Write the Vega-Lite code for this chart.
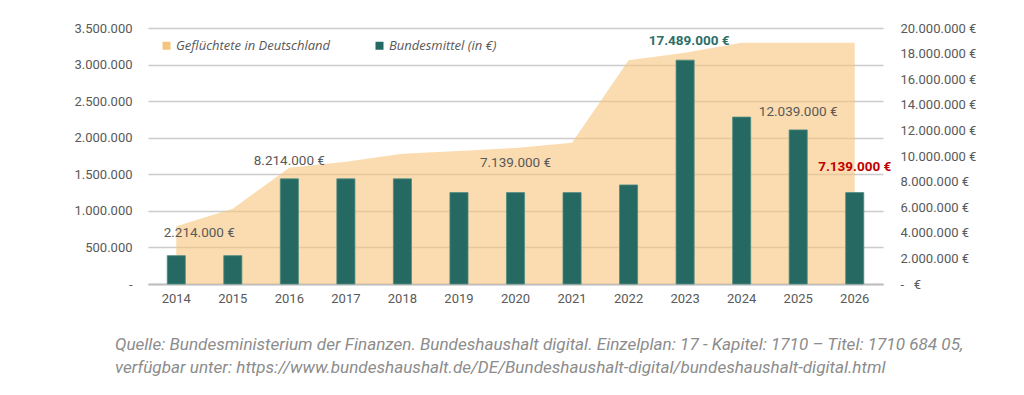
{
  "$schema": "https://vega.github.io/schema/vega-lite/v6.json",
  "width": 735,
  "height": 256,
  "autosize": {"type": "none"},
  "padding": {"left": 148, "top": 28, "right": 141, "bottom": 111},
  "background": "white",
  "config": {
    "locale": {"number": {"decimal": ",", "thousands": ".", "grouping": [3], "currency": ["", " €"]}},
    "view": {"stroke": null},
    "font": "Roboto",
    "axis": {"labelFont": "Roboto", "labelFontSize": 13, "labelColor": "#595959", "ticks": false, "domain": false, "title": null}
  },
  "title": {
    "text": ["Quelle: Bundesministerium der Finanzen. Bundeshaushalt digital. Einzelplan: 17 - Kapitel: 1710 – Titel: 1710 684 05,", "verfügbar unter: https://www.bundeshaushalt.de/DE/Bundeshaushalt-digital/bundeshaushalt-digital.html"],
    "orient": "bottom", "anchor": "start", "frame": "group", "dx": -33, "offset": 31,
    "font": "Roboto", "fontSize": 17.1, "fontStyle": "italic", "fontWeight": "normal", "color": "#8C8C8C", "lineHeight": 23
  },
  "data": {"values": [
    {"year": "2014", "refugees": 790000, "funds": 2214000},
    {"year": "2015", "refugees": 1030000, "funds": 2214000},
    {"year": "2016", "refugees": 1590000, "funds": 8214000},
    {"year": "2017", "refugees": 1670000, "funds": 8214000},
    {"year": "2018", "refugees": 1780000, "funds": 8214000},
    {"year": "2019", "refugees": 1820000, "funds": 7139000},
    {"year": "2020", "refugees": 1860000, "funds": 7139000},
    {"year": "2021", "refugees": 1930000, "funds": 7139000},
    {"year": "2022", "refugees": 3060000, "funds": 7739000},
    {"year": "2023", "refugees": 3160000, "funds": 17489000},
    {"year": "2024", "refugees": 3300000, "funds": 13039000},
    {"year": "2025", "refugees": 3300000, "funds": 12039000},
    {"year": "2026", "refugees": 3300000, "funds": 7139000}
  ]},
  "transform": [{"calculate": "format(datum.funds, ',') + ' €'", "as": "label"}],
  "encoding": {
    "x": {"field": "year", "type": "ordinal",
      "scale": {"paddingInner": 0.68, "paddingOuter": 0.34},
      "axis": {"labelAngle": 0, "domain": true, "domainColor": "#BFBFBF", "domainWidth": 2, "labelPadding": 8, "grid": false}}
  },
  "layer": [
    {
      "mark": {"type": "area", "opacity": 0.6},
      "encoding": {
        "y": {"field": "refugees", "type": "quantitative",
          "scale": {"domain": [0, 3500000], "nice": false},
          "axis": {"orient": "left", "values": [0, 500000, 1000000, 1500000, 2000000, 2500000, 3000000, 3500000],
            "labelExpr": "datum.value == 0 ? '-' : format(datum.value, ',')",
            "grid": true, "gridColor": "#CCCCCC", "gridWidth": 1.5, "labelPadding": 16}},
        "color": {"datum": "Geflüchtete in Deutschland", "type": "nominal",
          "scale": {"domain": ["Geflüchtete in Deutschland", "Bundesmittel (in €)"], "range": ["#F6C57C", "#256962"]},
          "legend": {"orient": "none", "legendX": 12, "legendY": 11, "direction": "horizontal", "title": null,
            "symbolType": "square", "symbolSize": 64, "symbolOpacity": 1, "labelFont": "Open Sans", "labelFontStyle": "italic",
            "labelColor": "#595959", "labelFontSize": 13, "columnPadding": 42, "labelOffset": 3,
            "encode": {"symbols": {"update": {"fill": {"signal": "datum.value == 'Geflüchtete in Deutschland' ? '#F9DCB0' : '#256962'"}, "opacity": {"value": 1}, "fillOpacity": {"value": 1}, "strokeWidth": {"value": 0}}}}}}
      }
    },
    {
      "encoding": {
        "y": {"field": "funds", "type": "quantitative",
          "scale": {"domain": [0, 20000000], "nice": false},
          "axis": {"orient": "right", "values": [0, 2000000, 4000000, 6000000, 8000000, 10000000, 12000000, 14000000, 16000000, 18000000, 20000000],
            "labelExpr": "datum.value == 0 ? '-\u00a0\u00a0\u00a0€' : format(datum.value, ',') + ' €'",
            "grid": false, "labelPadding": 17}}
      },
      "layer": [
        {"mark": {"type": "bar", "stroke": "#4E8C84", "strokeWidth": 0.8},
          "encoding": {"color": {"datum": "Bundesmittel (in €)", "type": "nominal"}}},
        {"transform": [{"filter": "datum.year == '2014'"}],
          "mark": {"type": "text", "font": "Roboto", "fontSize": 13.5, "color": "#595959", "dx": 23, "dy": -23, "baseline": "middle"},
          "encoding": {"text": {"field": "label"}}},
        {"transform": [{"filter": "datum.year == '2016' || datum.year == '2025'"}],
          "mark": {"type": "text", "font": "Roboto", "fontSize": 13.5, "color": "#595959", "dy": -18, "baseline": "middle"},
          "encoding": {"text": {"field": "label"}}},
        {"transform": [{"filter": "datum.year == '2020'"}],
          "mark": {"type": "text", "font": "Roboto", "fontSize": 13.5, "color": "#595959", "dy": -30, "baseline": "middle"},
          "encoding": {"text": {"field": "label"}}},
        {"transform": [{"filter": "datum.year == '2023'"}],
          "mark": {"type": "text", "font": "Roboto", "fontSize": 13.5, "fontWeight": "bold", "color": "#2B6E67", "dx": 4, "dy": -19, "baseline": "middle"},
          "encoding": {"text": {"field": "label"}}},
        {"transform": [{"filter": "datum.year == '2026'"}],
          "mark": {"type": "text", "font": "Roboto", "fontSize": 13.5, "fontWeight": "bold", "color": "#C00000", "dy": -26, "baseline": "middle"},
          "encoding": {"text": {"field": "label"}}}
      ]
    }
  ],
  "resolve": {"scale": {"y": "independent"}}
}
